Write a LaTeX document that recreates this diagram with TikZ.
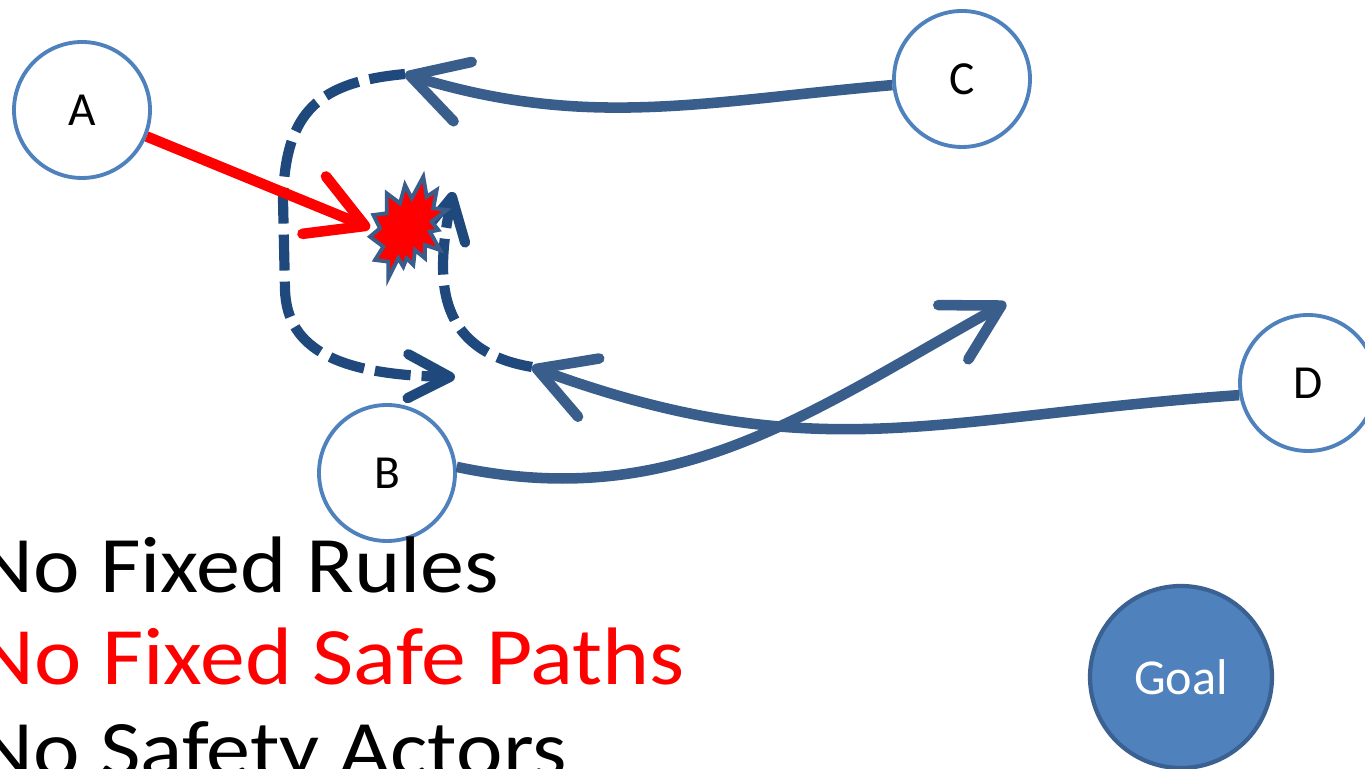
\documentclass[tikz,border=0pt]{standalone}
\usepackage{fontspec}
\setmainfont{Carlito}
\newfontfamily\widesans[FakeStretch=1.10]{Carlito}
\usetikzlibrary{arrows.meta}
\definecolor{actorblue}{HTML}{4F81BD}
\definecolor{pathblue}{HTML}{395E8C}
\definecolor{detourblue}{HTML}{1F497D}
\definecolor{goalrim}{HTML}{3A6191}

\begin{document}
\begin{tikzpicture}[
    actor/.style={circle, draw=actorblue, line width=1.1pt, minimum size=1.36cm, inner sep=0pt, font=\fontsize{13.5}{16}\selectfont},
    flow/.style={draw=pathblue, line width=3pt, -{Straight Barb[length=0.55cm, width=0.62cm, round]}},
    hit/.style={flow, draw=red},
    detour/.style={draw=detourblue, line width=2.9pt, dash pattern=on 0.36cm off 0.11cm, -{Straight Barb[length=0.42cm, width=0.44cm, round]}},
    slogan/.style={anchor=base west, inner sep=0pt, font=\widesans\fontsize{22.8}{27}\selectfont}]
  \useasboundingbox (0,0) rectangle (13.65,-7.69);

  % actors
  \node[actor] (A) at (0.82,-1.10) {A};
  \node[actor] (C) at (9.62,-0.79) {C};
  \node[actor] (B) at (3.87,-4.73) {B};
  \node[actor] (D) at (13.08,-3.83) {D};
  \node[circle, fill=actorblue, draw=goalrim, line width=1.2pt, minimum size=1.82cm, text=white,
        font=\fontsize{14.3}{17}\selectfont] (goal) at (11.81,-6.77) {Goal};

  % arrow ends
  \coordinate (hitA) at (3.70,-2.28);
  \coordinate (ctip) at (4.05,-0.74);
  \coordinate (dtip) at (5.32,-3.67);
  \coordinate (btip) at (10.06,-3.03);
  \coordinate (loopend) at (4.55,-3.77);
  \coordinate (jumptip) at (4.53,-1.92);

  % dashed detours
  \draw[detour] (ctip) .. controls (3.20,-0.82) and (2.85,-1.10) .. (2.83,-2.00)
    -- (2.85,-2.90) .. controls (2.87,-3.50) and (3.40,-3.75) .. (loopend);
  \draw[detour] (dtip) .. controls (4.30,-3.50) and (4.37,-2.70) .. (jumptip);

  % paths of the actors
  \draw[flow] (C.185) to[out=185, in=-17] (ctip);
  \draw[flow] (D.190) to[out=184, in=-20, looseness=1.1] (dtip);
  \draw[flow] (B.5) to[out=-12, in=209] (btip);
  \draw[hit] (A) -- (hitA);

  % crash
  \draw[fill=red, draw=pathblue, line width=1.1pt] plot coordinates {
    (4.233,-1.767) (4.267,-1.967) (4.367,-1.900) (4.333,-2.083) (4.467,-2.100)
    (4.317,-2.217) (4.383,-2.300) (4.300,-2.317) (4.400,-2.500) (4.250,-2.450)
    (4.250,-2.583) (4.150,-2.500) (4.133,-2.650) (4.067,-2.583) (4.033,-2.667)
    (3.983,-2.583) (3.883,-2.783) (3.883,-2.617) (3.750,-2.600) (3.833,-2.467)
    (3.700,-2.367) (3.800,-2.283) (3.733,-2.150) (3.867,-2.133) (3.867,-1.933)
    (4.000,-2.033) (4.050,-1.850) (4.117,-1.983)} -- cycle;

  % rules
  \node[slogan] (rules) at (-0.24,-5.93) {No Fixed Rules};
  \node[slogan, text=red, font=\widesans\fontsize{23.2}{27}\selectfont] (paths) at (-0.24,-6.85) {No Fixed Safe Paths};
  \node[slogan] (actors) at (-0.24,-7.77) {No Safety Actors};
\end{tikzpicture}
\end{document}
